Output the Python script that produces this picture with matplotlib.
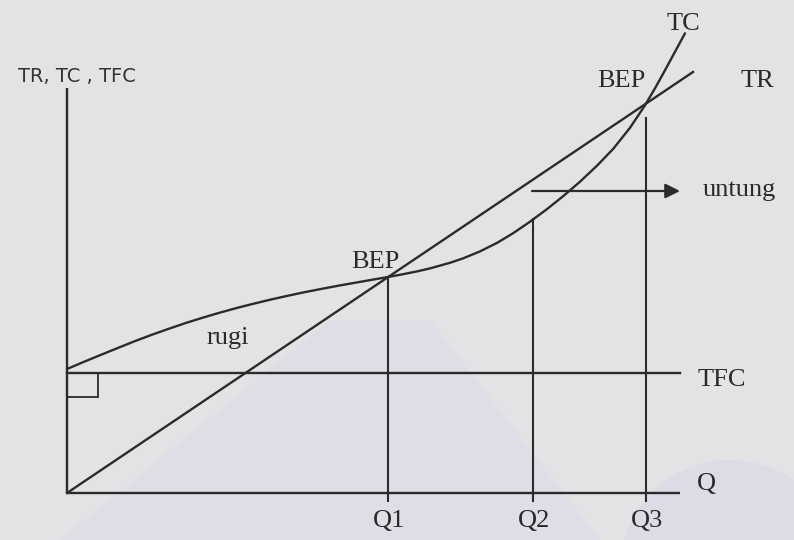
import matplotlib
matplotlib.use("Agg")
import matplotlib.pyplot as plt
from matplotlib.patches import Polygon, Circle, Rectangle

# Schematic break-even diagram; coordinates are in canvas units (0..794 x 0..540, y downward)
origin = (67, 493)
y_axis_top = 88
x_axis_end = 680
tfc_level = 373
tr_end = (693, 72)

tc_x = [67, 84, 101, 118, 135, 152, 169, 186, 203, 220, 237, 254, 271, 288, 305, 322,
        339, 356, 373, 388, 400, 417, 430, 450, 463, 480, 497, 513, 530, 547, 563,
        580, 597, 613, 630, 645, 655, 664, 675, 685]
tc_y = [369, 361.8, 354.8, 347.9, 341.1, 334.7, 328.7, 322.9, 317.6, 312.6, 307.9, 303.6,
        299.5, 295.7, 292.1, 288.8, 285.6, 282.6, 279.6, 277.0, 274.8, 271.4, 268.4,
        262.8, 258.4, 251.4, 242.9, 233.3, 221.7, 209.1, 196.3, 181.7, 165.7, 149.1,
        127.8, 105.3, 88.3, 72.1, 51.8, 33.3]

q_labels = ["Q1", "Q2", "Q3"]
q_x = [388, 533, 646]
q_top = [277, 219, 118]

ink = "#2b2b2b"
bg = "#e3e2e5"

fig = plt.figure(figsize=(7.94, 5.40), dpi=100, facecolor=bg)
ax = fig.add_axes([0, 0, 1, 1])
ax.set_facecolor(bg)
ax.set_xlim(0, 794)
ax.set_ylim(540, 0)
ax.axis("off")

# very faint watermark shapes
ax.add_patch(Polygon([(60, 540), (330, 320), (430, 320), (600, 540)], closed=True,
                     facecolor="#dfdee6", edgecolor="none", zorder=0))
ax.add_patch(Circle((730, 570), 110, facecolor="#dddce6", edgecolor="none", zorder=0))

lw = 1.7
# axes
ax.plot([origin[0], origin[0]], [origin[1], y_axis_top], color=ink, lw=lw, solid_capstyle="butt")
ax.plot([origin[0], x_axis_end], [origin[1], origin[1]], color=ink, lw=lw, solid_capstyle="butt")
# TFC
ax.plot([origin[0], x_axis_end], [tfc_level, tfc_level], color=ink, lw=lw)
# small square
ax.add_patch(Rectangle((origin[0], tfc_level), 31, 24, fill=False, edgecolor=ink, lw=1.3))
# TR
ax.plot([origin[0], tr_end[0]], [origin[1], tr_end[1]], color=ink, lw=lw)
# TC
ax.plot(tc_x, tc_y, color=ink, lw=lw, solid_joinstyle="round", solid_capstyle="round")
# verticals
for x, top in zip(q_x, q_top):
    ax.plot([x, x], [top, origin[1] + 8], color=ink, lw=1.5)
# arrow
ax.annotate("", xy=(680, 191), xytext=(532, 191),
            arrowprops=dict(arrowstyle="-|>", lw=1.6, color=ink, mutation_scale=22,
                            shrinkA=0, shrinkB=0))

serif = "Liberation Serif"
fs = 19
tc = "#2a2a2a"
ax.text(683, 24, "TC", fontsize=fs, family=serif, ha="center", va="center", color=tc)
ax.text(621, 81, "BEP", fontsize=fs, family=serif, ha="center", va="center", color=tc)
ax.text(757, 81, "TR", fontsize=fs, family=serif, ha="center", va="center", color=tc)
ax.text(703, 190, "untung", fontsize=fs, family=serif, ha="left", va="center", color=tc)
ax.text(375, 262, "BEP", fontsize=fs, family=serif, ha="center", va="center", color=tc)
ax.text(228, 338, "rugi", fontsize=fs, family=serif, ha="center", va="center", color=tc)
ax.text(722, 380, "TFC", fontsize=fs, family=serif, ha="center", va="center", color=tc)
ax.text(706, 484, "Q", fontsize=fs, family=serif, ha="center", va="center", color=tc)
for lab, x in zip(q_labels, q_x):
    ax.text(x + 1, 521, lab, fontsize=fs, family=serif, ha="center", va="center", color=tc)

ax.text(18, 76, "TR, TC , TFC", fontsize=14, family="DejaVu Sans", ha="left", va="center",
        color="#333333")

fig.savefig("out.png", dpi=100, facecolor=bg)
